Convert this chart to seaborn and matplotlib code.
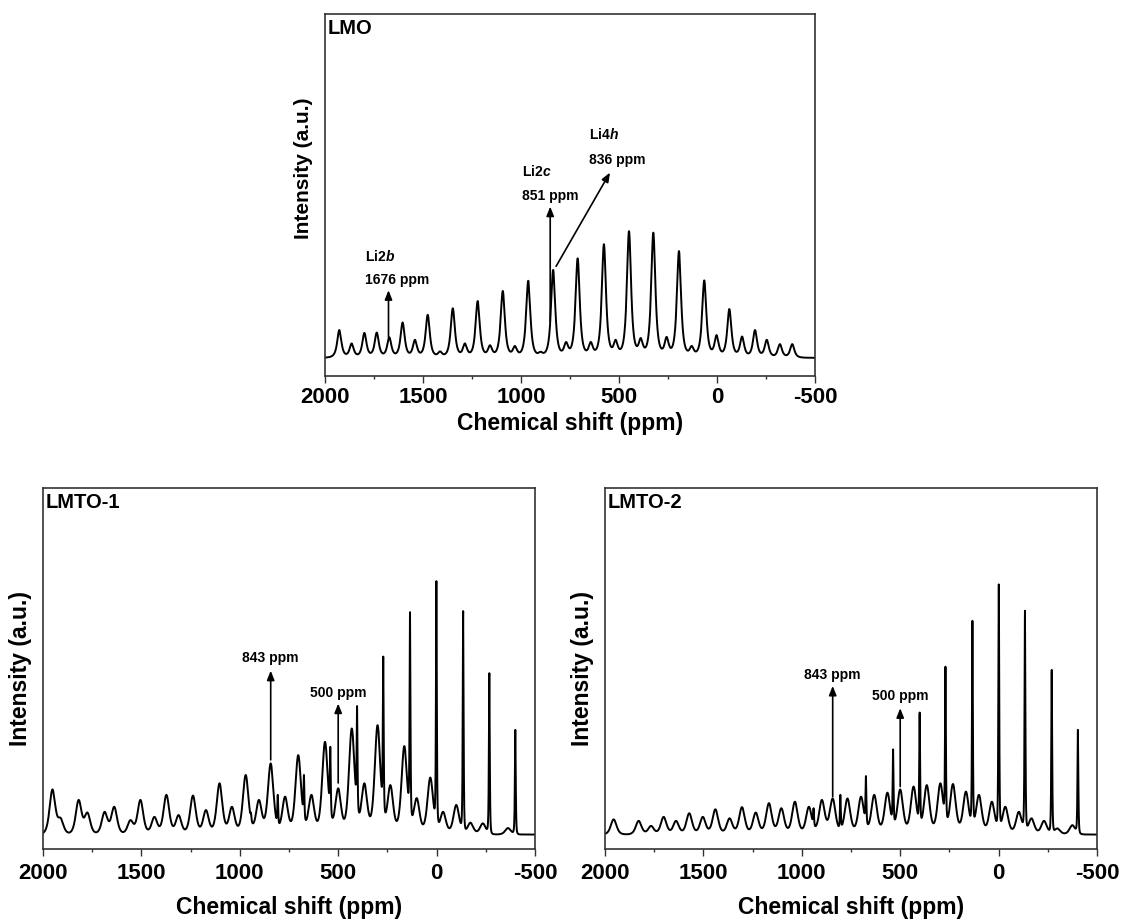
import numpy as np
import pandas as pd
import matplotlib
matplotlib.use("Agg")
import matplotlib.pyplot as plt
import seaborn as sns

# ---------------- data ----------------
# x-axis ticks
x_ticks = [2000, 1500, 1000, 500, 0, -500]
x_minor = [1750, 1250, 750, 250, -250]

# LMO: peak positions (ppm) and tip heights (fraction of plot height)
lmo_pos = [1927, 1864, 1799, 1736, 1672, 1604, 1541, 1476, 1413, 1348, 1286,
           1221, 1158, 1093, 1031, 963, 900, 836, 770, 711, 644, 577, 517,
           449, 389, 325, 257, 194, 129, 65, 2, -63, -128, -194, -254, -321,
           -384]
lmo_tip = [0.127, 0.090, 0.119, 0.120, 0.107, 0.148, 0.100, 0.169, 0.068,
           0.187, 0.090, 0.207, 0.085, 0.235, 0.083, 0.263, 0.067, 0.293,
           0.094, 0.325, 0.094, 0.364, 0.100, 0.400, 0.105, 0.396, 0.108,
           0.345, 0.083, 0.264, 0.113, 0.185, 0.109, 0.127, 0.100, 0.088,
           0.088]
lmo_base = 0.05

# LMTO-1: broad sidebands and sharp sidebands
lmto1_broad_pos = [1952, 1910, 1819, 1774, 1687, 1638, 1556, 1505, 1434, 1373,
                   1311, 1238, 1172, 1103, 1040, 970, 903, 843, 770, 703, 636,
                   567, 500, 431, 367, 300, 235, 164, 101, 32, -33, -100, -172,
                   -235, -363]
lmto1_broad_tip = [0.165, 0.086, 0.136, 0.101, 0.103, 0.117, 0.080, 0.136,
                   0.089, 0.150, 0.094, 0.148, 0.108, 0.182, 0.117, 0.205,
                   0.136, 0.237, 0.145, 0.260, 0.150, 0.297, 0.168, 0.334,
                   0.182, 0.343, 0.177, 0.285, 0.141, 0.198, 0.103, 0.122,
                   0.073, 0.071, 0.058]
lmto1_sharp_pos = [943, 807, 674, 540, 404, 271, 135, 1, -135, -268, -400]
lmto1_sharp_tip = [0.100, 0.150, 0.205, 0.283, 0.396, 0.533, 0.656, 0.742,
                   0.659, 0.487, 0.330]
lmto1_base = 0.04

# LMTO-2
lmto2_broad_pos = [1956, 1829, 1766, 1702, 1639, 1572, 1503, 1439, 1367, 1304,
                   1234, 1167, 1104, 1035, 964, 898, 843, 768, 699, 632, 565,
                   500, 432, 365, 296, 232, 166, 100, 34, -34, -103, -167,
                   -231, -299, -375]
lmto2_broad_tip = [0.082, 0.078, 0.064, 0.089, 0.078, 0.099, 0.089, 0.110,
                   0.085, 0.116, 0.101, 0.127, 0.113, 0.131, 0.117, 0.136,
                   0.140, 0.140, 0.145, 0.150, 0.156, 0.165, 0.173, 0.177,
                   0.182, 0.180, 0.159, 0.150, 0.131, 0.117, 0.103, 0.085,
                   0.078, 0.057, 0.066]
lmto2_sharp_pos = [940, 804, 674, 536, 401, 270, 133, -1, -134, -270, -403]
lmto2_sharp_tip = [0.113, 0.150, 0.202, 0.276, 0.378, 0.505, 0.632, 0.733,
                   0.660, 0.496, 0.330]
lmto2_base = 0.04

# annotations
lmo_labels = [("Li2$\\mathit{b}$", "1676 ppm", 1676), ("Li2$\\mathit{c}$", "851 ppm", 851),
              ("Li4$\\mathit{h}$", "836 ppm", 836)]
lmto_labels = ["843 ppm", "500 ppm"]
lmto_marks = [843, 500]

# ---------------- style ----------------
sns.set_theme(style="white")
plt.rcParams["font.family"] = ["Liberation Sans", "DejaVu Sans"]
plt.rcParams["font.weight"] = "bold"
plt.rcParams["text.color"] = "black"
plt.rcParams["axes.labelcolor"] = "black"
plt.rcParams["xtick.color"] = "black"
plt.rcParams["mathtext.fontset"] = "custom"
plt.rcParams["mathtext.rm"] = "Liberation Sans:bold"
plt.rcParams["mathtext.it"] = "Liberation Sans:italic:bold"
plt.rcParams["mathtext.bf"] = "Liberation Sans:bold"

grid = np.arange(-500, 2000.01, 0.5)


def pearson(x, x0, fwhm, m):
    w = (fwhm / 2.0) / np.sqrt(2 ** (1.0 / m) - 1)
    return (1 + ((x - x0) / w) ** 2) ** (-m)


def spectrum(base, groups):
    cen, tip, fw, mm = [], [], [], []
    for pos, tips, fwhm, m in groups:
        cen += list(pos)
        tip += list(tips)
        fw += [fwhm] * len(pos)
        mm += [m] * len(pos)
    cen = np.array(cen, float)
    tip = np.array(tip, float)
    M = np.array([[pearson(ci, cj, fj, mj) for cj, fj, mj in zip(cen, fw, mm)]
                  for ci in cen])
    amp = np.linalg.solve(M, tip - base)
    y = np.full_like(grid, base)
    for a, c, f, m in zip(amp, cen, fw, mm):
        y = y + a * pearson(grid, c, f, m)
    return y


lmo_y = spectrum(lmo_base, [(lmo_pos, lmo_tip, 25, 1.5)])
lmto1_y = spectrum(lmto1_base, [(lmto1_broad_pos, lmto1_broad_tip, 34, 3),
                                (lmto1_sharp_pos, lmto1_sharp_tip, 5, 2)])
lmto2_y = spectrum(lmto2_base, [(lmto2_broad_pos, lmto2_broad_tip, 34, 3),
                                (lmto2_sharp_pos, lmto2_sharp_tip, 5, 2)])

W, H = 1121, 921
fig = plt.figure(figsize=(W / 100, H / 100), dpi=100)


def make_ax(l, t, r, b):
    return fig.add_axes([l / W, 1 - b / H, (r - l) / W, (b - t) / H])


ax_top = make_ax(325, 14, 815, 376)
ax_l = make_ax(43, 488, 535, 849)
ax_r = make_ax(605, 488, 1097, 849)

TICK_FS = 16
for ax, y, name in [(ax_top, lmo_y, "LMO"), (ax_l, lmto1_y, "LMTO-1"),
                    (ax_r, lmto2_y, "LMTO-2")]:
    df = pd.DataFrame({"ppm": grid, "I": y})
    sns.lineplot(data=df, x="ppm", y="I", ax=ax, color="black", lw=1.4,
                 estimator=None, sort=False)
    ax.set_xlim(2000, -500)
    ax.set_ylim(0, 1)
    ax.set_xticks(x_ticks)
    ax.set_xticklabels([str(t) for t in x_ticks])
    ax.set_xticks(x_minor, minor=True)
    ax.set_yticks([])
    ax.tick_params(axis="x", which="major", direction="out", length=5, width=1,
                   color="#333333", labelsize=TICK_FS, pad=5, bottom=True,
                   labelcolor="black")
    ax.tick_params(axis="x", which="minor", direction="out", length=2.5,
                   width=1, color="#333333", bottom=True)
    for lab in ax.get_xticklabels():
        lab.set_fontweight("bold")
    for sp in ax.spines.values():
        sp.set_color("#333333")
        sp.set_linewidth(1.2)
    ax.set_xlabel("Chemical shift (ppm)", fontsize=16.5, fontweight="bold",
                  labelpad=9, color="black")
    ax.text(0.006, 0.985, name, transform=ax.transAxes, ha="left", va="top",
            fontsize=14.5, fontweight="bold", color="black")

# top panel has tighter tick-label / axis-label spacing
ax_top.tick_params(axis="x", which="major", pad=3)
ax_top.xaxis.labelpad = 3

ax_top.set_ylabel("Intensity (a.u.)", fontsize=15, fontweight="bold", color="black")
ax_top.yaxis.set_label_coords(-0.025, 0.575)
for ax in (ax_l, ax_r):
    ax.set_ylabel("Intensity (a.u.)", fontsize=16.5, fontweight="bold", color="black")
    ax.yaxis.set_label_coords(-0.022, 0.5)

arrow_kw = dict(arrowstyle="-|>,head_length=0.55,head_width=0.22",
                color="black", lw=1.2, mutation_scale=10,
                shrinkA=0, shrinkB=0)
ANN_FS = 10

# LMO annotations
# Li2b
ax_top.annotate("", xy=(lmo_labels[0][2], 0.237), xytext=(lmo_labels[0][2], 0.107),
                arrowprops=arrow_kw)
ax_top.text(1796, 0.331, lmo_labels[0][0], ha="left", va="center", fontsize=ANN_FS)
ax_top.text(1796, 0.264, lmo_labels[0][1], ha="left", va="center", fontsize=ANN_FS)
# Li2c
ax_top.annotate("", xy=(lmo_labels[1][2], 0.468), xytext=(lmo_labels[1][2], 0.152),
                arrowprops=arrow_kw)
ax_top.text(995, 0.565, lmo_labels[1][0], ha="left", va="center", fontsize=ANN_FS)
ax_top.text(995, 0.496, lmo_labels[1][1], ha="left", va="center", fontsize=ANN_FS)
# Li4h
ax_top.annotate("", xy=(546, 0.562), xytext=(lmo_labels[2][2] - 15, 0.303),
                arrowprops=arrow_kw)
ax_top.text(653, 0.667, lmo_labels[2][0], ha="left", va="center", fontsize=ANN_FS)
ax_top.text(653, 0.598, lmo_labels[2][1], ha="left", va="center", fontsize=ANN_FS)

# LMTO-1 annotations
ax_l.annotate("", xy=(lmto_marks[0], 0.494), xytext=(lmto_marks[0], 0.247),
              arrowprops=arrow_kw)
ax_l.text(lmto_marks[0], 0.530, lmto_labels[0], ha="center", va="center", fontsize=ANN_FS)
ax_l.annotate("", xy=(lmto_marks[1], 0.403), xytext=(lmto_marks[1], 0.183),
              arrowprops=arrow_kw)
ax_l.text(lmto_marks[1], 0.433, lmto_labels[1], ha="center", va="center", fontsize=ANN_FS)

# LMTO-2 annotations
ax_r.annotate("", xy=(lmto_marks[0], 0.452), xytext=(lmto_marks[0], 0.145),
              arrowprops=arrow_kw)
ax_r.text(lmto_marks[0], 0.482, lmto_labels[0], ha="center", va="center", fontsize=ANN_FS)
ax_r.annotate("", xy=(lmto_marks[1], 0.390), xytext=(lmto_marks[1], 0.173),
              arrowprops=arrow_kw)
ax_r.text(lmto_marks[1], 0.425, lmto_labels[1], ha="center", va="center", fontsize=ANN_FS)

fig.savefig("out.png", dpi=100, facecolor="white")
